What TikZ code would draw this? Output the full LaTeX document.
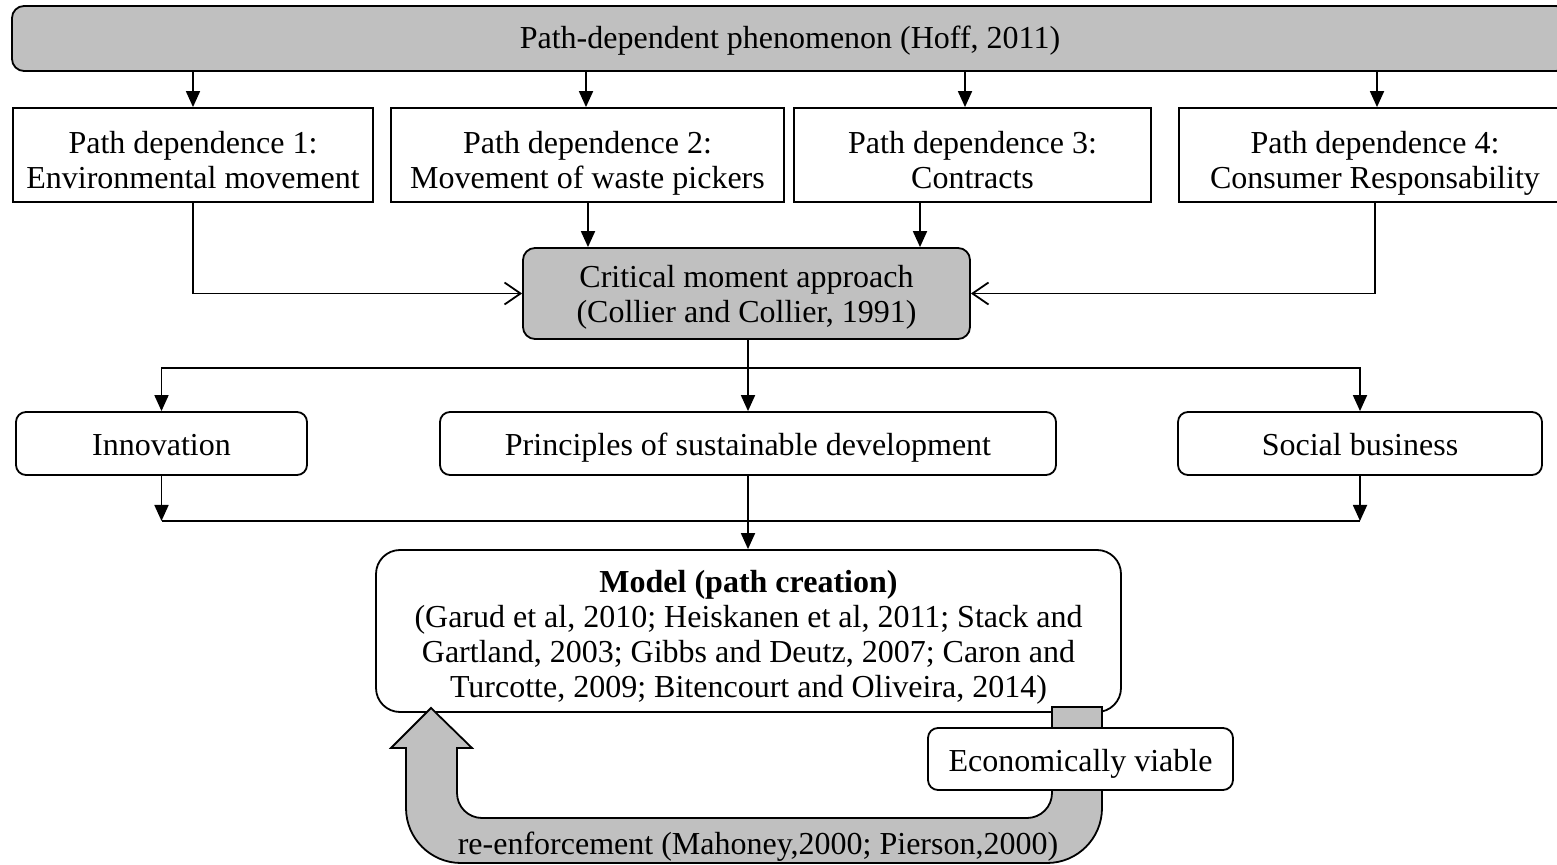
\documentclass[tikz,border=0pt]{standalone}
\usepackage{fontspec}
\setmainfont{Liberation Serif}
\usetikzlibrary{arrows.meta}
\definecolor{grayfill}{HTML}{C0C0C0}
\def\tsh{2.5pt}
\newcommand{\myln}[1]{\smash{\raisebox{-\tsh}{#1}}\strut}
\begin{document}
\begin{tikzpicture}[x=0.5pt,y=-0.5pt, line width=0.9pt,
  font=\fontsize{16pt}{17.5pt}\selectfont,
  sq/.style={draw, fill=white, inner sep=0pt, align=center},
  rd/.style={sq, rounded corners=5pt},
  ts/.style={execute at begin node={\def\tsh{#1}}},
  arr/.style={-{Triangle[length=8pt,width=7pt]}},
  oarr/.style={-{Straight Barb[length=8pt,width=11pt]}}]
\useasboundingbox (0,0) rectangle (1557,865);

% top bar
\node[sq, ts=1.5pt, fill=grayfill, rounded corners=6pt, minimum width=778pt, minimum height=32.5pt] (bar) at (790,38.5) {\myln{Path-dependent phenomenon (Hoff, 2011)}};

% path dependence boxes
\node[sq, ts=4.5pt, minimum width=180pt, minimum height=47pt] (b1) at (193,155) {\myln{Path dependence 1:}\\\myln{Environmental movement}};
\node[sq, ts=4.5pt, minimum width=196.5pt, minimum height=47pt] (b2) at (587.5,155) {\myln{Path dependence 2:}\\\myln{Movement of waste pickers}};
\node[sq, ts=4.5pt, minimum width=178.5pt, minimum height=47pt] (b3) at (972.5,155) {\myln{Path dependence 3:}\\\myln{Contracts}};
\node[sq, ts=4.5pt, minimum width=196pt, minimum height=47pt] (b4) at (1375,155) {\myln{Path dependence 4:}\\\myln{Consumer Responsability}};

% critical moment
\node[rd, ts=2.5pt, fill=grayfill, rounded corners=6pt, minimum width=223.5pt, minimum height=45.5pt] (crit) at (746.5,293.5) {\myln{Critical moment approach}\\\myln{(Collier and Collier, 1991)}};

% second row
\node[rd, ts=2.5pt, minimum width=145.5pt, minimum height=31.5pt] (inn) at (161.5,443.5) {\myln{Innovation}};
\node[rd, ts=2.5pt, minimum width=308pt, minimum height=31.5pt] (prin) at (748,443.5) {\myln{Principles of sustainable development}};
\node[rd, ts=2.5pt, minimum width=182pt, minimum height=31.5pt] (soc) at (1360,443.5) {\myln{Social business}};

% model
\node[rd, ts=3.25pt, rounded corners=12pt, minimum width=372.5pt, minimum height=81pt] (model) at (748.5,631) {\myln{\textbf{Model (path creation)}}\\\myln{(Garud et al, 2010; Heiskanen et al, 2011; Stack and}\\\myln{Gartland, 2003; Gibbs and Deutz, 2007; Caron and}\\\myln{Turcotte, 2009; Bitencourt and Oliveira, 2014)}};

% helper coordinates
\coordinate (t2) at (586,0);
\coordinate (t3) at (965,0);
\coordinate (t4) at (1377,0);
\coordinate (m2) at (588,0);
\coordinate (m3) at (920,0);
\coordinate (hy) at (0,368);
\coordinate (ly) at (0,521);

% connectors top
\draw[arr] (bar.south -| b1.north) -- (b1.north);
\draw[arr] (bar.south -| t2) -- (b2.north -| t2);
\draw[arr] (bar.south -| t3) -- (b3.north -| t3);
\draw[arr] (bar.south -| t4) -- (b4.north -| t4);

\draw[oarr] (b1.south) |- (crit.west);
\draw[arr] (b2.south -| m2) -- (crit.north -| m2);
\draw[arr] (b3.south -| m3) -- (crit.north -| m3);
\draw[oarr] (b4.south) |- (crit.east);

% critical to second row
\draw[arr] (crit.south -| prin.north) -- (prin.north);
\draw[arr] (prin.north |- hy) -| (inn.north);
\draw[arr] (prin.north |- hy) -| (soc.north);

% second row to model
\draw[arr] (inn.south) -- (inn.south |- ly);
\draw[arr] (soc.south) -- (soc.south |- ly);
\draw (inn.south |- ly) -- (soc.south |- ly);
\draw[arr] (prin.south) -- (model.north -| prin.south);

% feedback band
\draw[fill=grayfill, line join=miter]
  (1102,707) -- (1102,808) .. controls (1102,838.4) and (1077.4,863) .. (1047,863)
  -- (461,863) .. controls (430.6,863) and (406,838.4) .. (406,808)
  -- (406,748) -- (391,748) -- (431,708) -- (472,748) -- (457,748)
  -- (457,793) .. controls (457,806.8) and (468.2,818) .. (482,818)
  -- (1027,818) .. controls (1040.8,818) and (1052,806.8) .. (1052,793)
  -- (1052,707) -- cycle;

\node[rd, ts=2.5pt, minimum width=152.5pt, minimum height=31pt] (econ) at (1080.5,759) {\myln{Economically viable}};
\node[ts=2.5pt] (reinf) at (758,842) {\myln{re-enforcement (Mahoney,2000; Pierson,2000)}};
\end{tikzpicture}
\end{document}
